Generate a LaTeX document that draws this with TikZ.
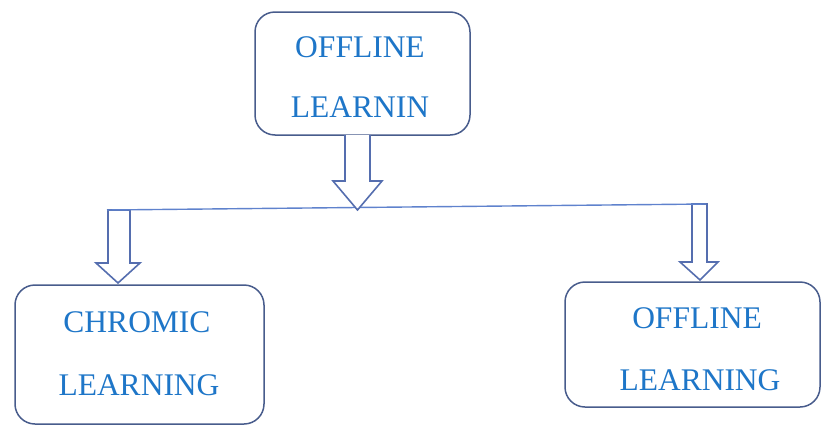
\documentclass[tikz,border=0pt]{standalone}
\usepackage{fontspec}
\setmainfont{Liberation Serif}
\begin{document}
\begin{tikzpicture}[x=1pt,y=-1pt,
  boxstyle/.style={draw=boxc, line width=1.5pt, rounded corners=20pt, fill=white, inner sep=0pt},
  txt/.style={text=txtc, font=\fontsize{31.5}{33}\selectfont, inner sep=0pt},
  blockarrow/.style={draw=arrc, line width=1.6pt, fill=white, line join=miter},
  hline/.style={draw=linec, line width=1.4pt}]
\definecolor{boxc}{RGB}{72,92,140}
\definecolor{txtc}{RGB}{30,118,200}
\definecolor{arrc}{RGB}{85,110,175}
\definecolor{linec}{RGB}{95,130,205}
\useasboundingbox (0,0) rectangle (822,426);
% boxes
\node[boxstyle, minimum width=215pt, minimum height=123pt] (top) at (362.5,73.5) {};
\node[boxstyle, minimum width=249pt, minimum height=139pt] (left) at (139.5,354.5) {};
\node[boxstyle, minimum width=255pt, minimum height=125pt] (right) at (692.5,344.5) {};
% texts
\node[txt] (t1) at (360,47) {OFFLINE};
\node[txt] (t2) at (360,107) {LEARNIN};
\node[txt] (l1) at (137,322) {CHROMIC};
\node[txt] (l2) at (139,385) {LEARNING};
\node[txt] (r1) at (697,318) {OFFLINE};
\node[txt] (r2) at (700,380) {LEARNING};
% horizontal line
\coordinate (hl) at (107,210);
\coordinate (hr) at (706,204);
% side arrows (behind line)
\draw[blockarrow] (108,210) -- (108,263) -- (96,263) -- (118,283) -- (140,263) -- (130,263) -- (130,210) -- cycle;
\draw[blockarrow] (692,204) -- (692,262) -- (680,262) -- (700,280) -- (718,262) -- (707,262) -- (707,204) -- cycle;
\draw[hline] (hl) -- (hr);
% top arrow
\draw[blockarrow] (345,135) -- (345,181) -- (333,181) -- (357.5,210) -- (382,181) -- (370,181) -- (370,135);
\end{tikzpicture}
\end{document}
